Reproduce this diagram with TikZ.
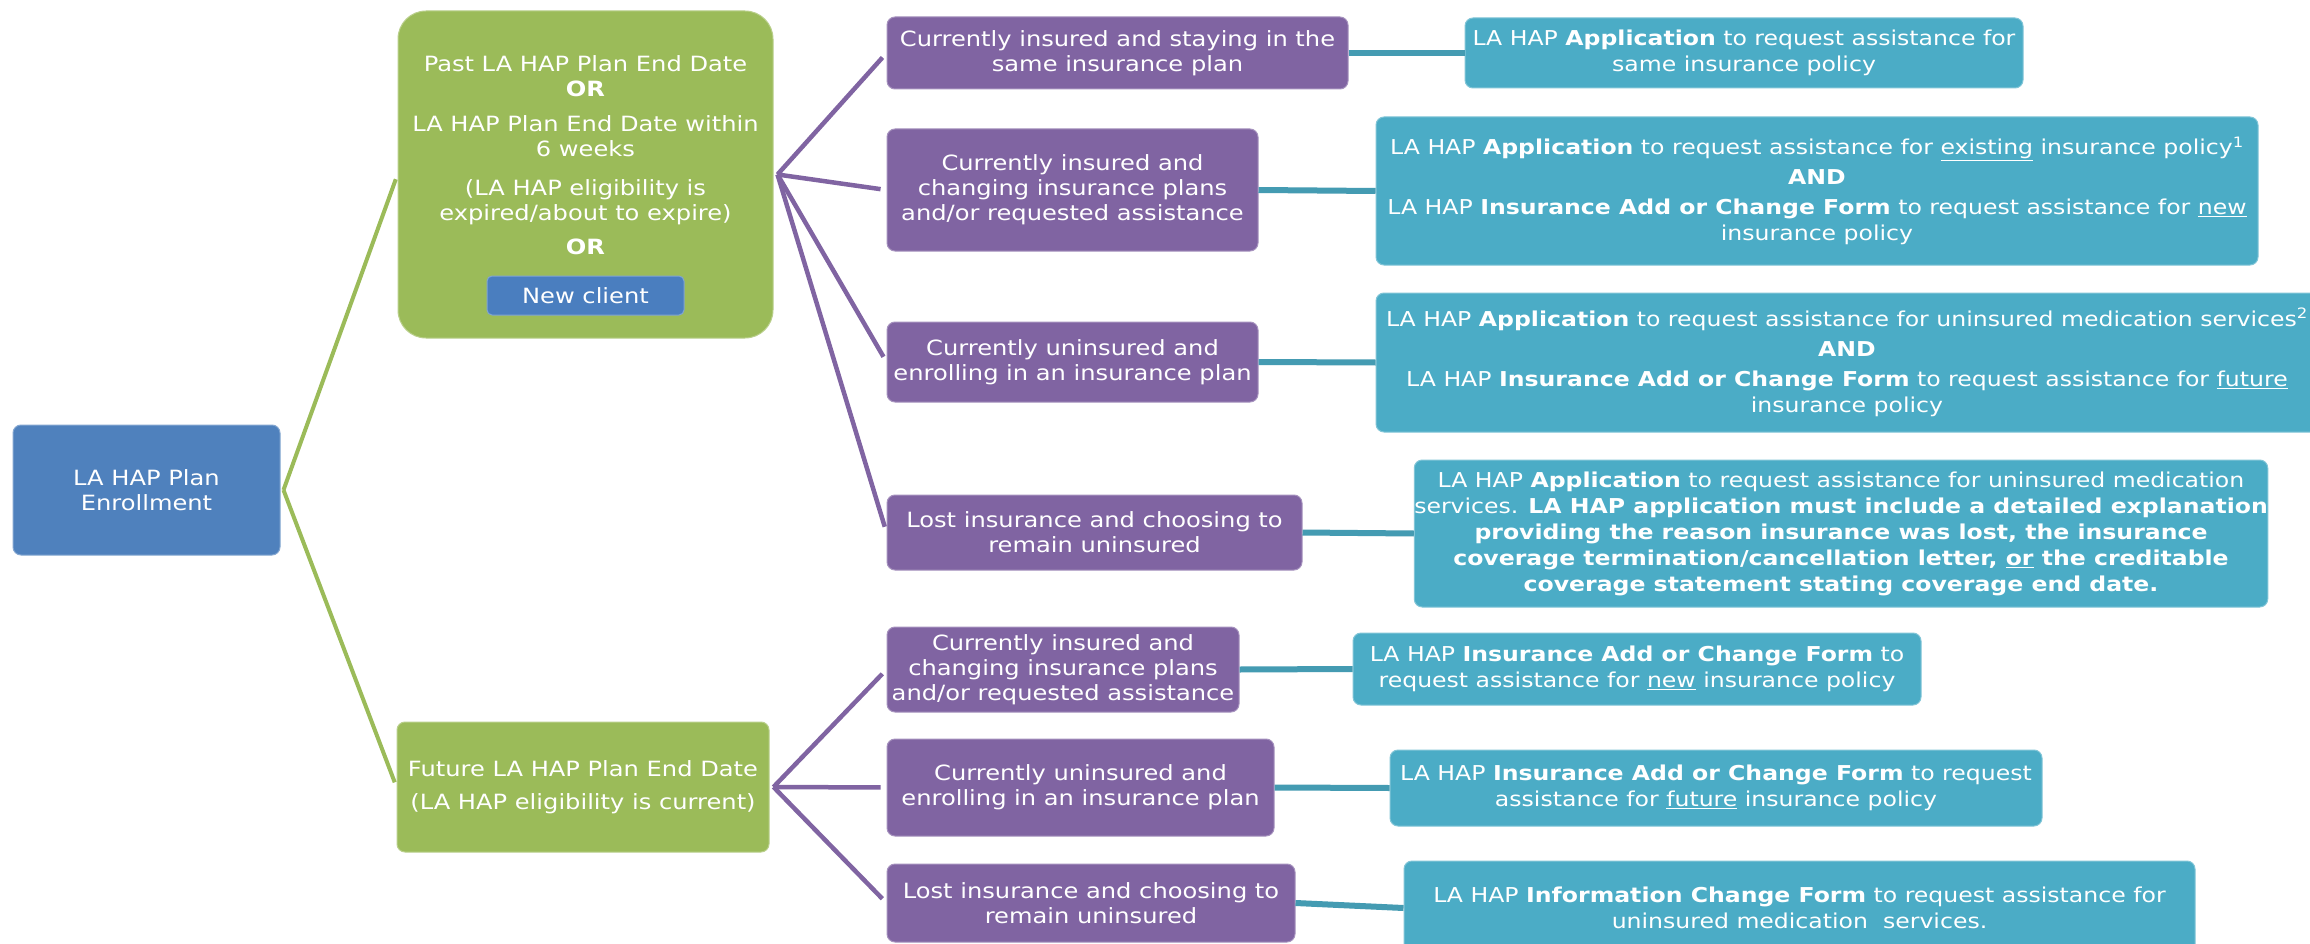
\documentclass[tikz,border=0pt]{standalone}
\usepackage{fontspec}
\setmainfont{DejaVu Sans}[FakeStretch=1.15]
\usetikzlibrary{calc}
\definecolor{rootblue}{HTML}{4F81BD}
\definecolor{lagreen}{HTML}{9BBB59}
\definecolor{lapurple}{HTML}{8064A2}
\definecolor{lateal}{HTML}{4BACC6}
\definecolor{clientblue}{HTML}{4A7EBF}
\begin{document}
\begin{tikzpicture}[x=1pt,y=-1pt,
  box/.style={rectangle, rounded corners=8pt, text=white, align=center, inner sep=0pt, line width=1pt, font=\fontsize{21}{25}\selectfont},
  rootbox/.style={box, fill=rootblue, draw=rootblue!70!white},
  greenbox/.style={box, fill=lagreen, draw=lagreen!70!white},
  purplebox/.style={box, fill=lapurple, draw=lapurple!70!white},
  tealbox/.style={box, fill=lateal, draw=lateal!70!white, font=\fontsize{20.5}{26}\selectfont},
  clientbox/.style={box, rounded corners=5pt, fill=clientblue, draw=clientblue!70!white},
  gline/.style={draw=lagreen, line width=4pt},
  pline/.style={draw=lapurple, line width=4.5pt},
  tline/.style={draw=lateal!90!black, line width=6pt},
]
\clip (0,0) rectangle (2310,944);
\fill[white] (0,0) rectangle (2310,944);

% root
\node[rootbox, minimum width=267pt, minimum height=130pt] (root) at (146.5,490) {LA HAP Plan\\Enrollment};

% green boxes
\node[greenbox, rounded corners=28pt, minimum width=375pt, minimum height=327pt] (g1) at (585.5,174.5) {};
\node[anchor=north, text=white, align=center, inner sep=0pt, font=\fontsize{21}{25}\selectfont] (g1text) at (585.5,55)
  {Past LA HAP Plan End Date\\\textbf{OR}\\[10pt]LA HAP Plan End Date within\\6 weeks\\[14pt](LA HAP eligibility is\\expired/about to expire)\\[9pt]\textbf{OR}};
\node[clientbox, minimum width=197pt, minimum height=39pt] (nc) at (585.5,295.5) {New client};
\node[greenbox, minimum width=372pt, minimum height=130pt] (g2) at (583,787) {Future LA HAP Plan End Date\\[8pt](LA HAP eligibility is current)};

% purple boxes
\node[purplebox, minimum width=461pt, minimum height=72pt] (p1) at (1117.5,53) {Currently insured and staying in the\\same insurance plan};
\node[purplebox, minimum width=371pt, minimum height=122pt] (p2) at (1072.5,190) {Currently insured and\\changing insurance plans\\and/or requested assistance};
\node[purplebox, minimum width=371pt, minimum height=80pt] (p3) at (1072.5,362) {Currently uninsured and\\enrolling in an insurance plan};
\node[purplebox, minimum width=415pt, minimum height=75pt] (p4) at (1094.5,532.5) {Lost insurance and choosing to\\remain uninsured};
\node[purplebox, minimum width=352pt, minimum height=85pt] (p5) at (1063,669.5) {Currently insured and\\changing insurance plans\\and/or requested assistance};
\node[purplebox, minimum width=387pt, minimum height=97pt] (p6) at (1080.5,787.5) {Currently uninsured and\\enrolling in an insurance plan};
\node[purplebox, minimum width=408pt, minimum height=78pt] (p7) at (1091,903) {Lost insurance and choosing to\\remain uninsured};

% teal boxes
\node[tealbox, minimum width=558pt, minimum height=70pt] (t1) at (1744,53) {LA HAP \textbf{Application} to request assistance for\\same insurance policy};
\node[tealbox, minimum width=882pt, minimum height=148pt] (t2) at (1817,191) {LA HAP \textbf{Application} to request assistance for \underline{existing} insurance policy\textsuperscript{1}\\[4pt]\textbf{AND}\\[4pt]LA HAP \textbf{Insurance Add or Change Form} to request assistance for \underline{new}\\insurance policy};
\node[tealbox, minimum width=942pt, minimum height=139pt] (t3) at (1847,362.5) {LA HAP \textbf{Application} to request assistance for uninsured medication services\textsuperscript{2}\\[4pt]\textbf{AND}\\[4pt]LA HAP \textbf{Insurance Add or Change Form} to request assistance for \underline{future}\\insurance policy};
\node[tealbox, minimum width=850pt, minimum height=147pt] (t4) at (1841,533.5) {LA HAP \textbf{Application} to request assistance for uninsured medication\\services. \textbf{LA HAP application must include a detailed explanation}\\\textbf{providing the reason insurance was lost, the insurance}\\\textbf{coverage termination/cancellation letter, \underline{or} the creditable}\\\textbf{coverage statement stating coverage end date.}};
\node[tealbox, minimum width=568pt, minimum height=72pt] (t5) at (1637,669) {LA HAP \textbf{Insurance Add or Change Form} to\\request assistance for \underline{new} insurance policy};
\node[tealbox, minimum width=652pt, minimum height=76pt] (t6) at (1716,788) {LA HAP \textbf{Insurance Add or Change Form} to request\\assistance for \underline{future} insurance policy};
\node[tealbox, minimum width=791pt, minimum height=94pt] (t7) at (1799.5,908) {LA HAP \textbf{Information Change Form} to request assistance for\\uninsured medication\ \ services.};

% connectors
\coordinate (vr) at ($(root.east)+(3,0)$);
\coordinate (v1) at ($(g1.east)+(4,0)$);
\coordinate (v2) at ($(g2.east)+(4,0)$);
\draw[gline, shorten >=5pt] (vr) -- (g1.west);
\draw[gline, shorten >=5pt] (vr) -- (g2.west);
\foreach \p in {p1,p2,p3,p4} \draw[pline, shorten >=6pt] (v1) -- (\p.west);
\foreach \p in {p5,p6,p7} \draw[pline, shorten >=6pt] (v2) -- (\p.west);
\draw[tline] (p1.east) -- (t1.west);
\draw[tline] (p2.east) -- (t2.west);
\draw[tline] (p3.east) -- (t3.west);
\draw[tline] (p4.east) -- (t4.west);
\draw[tline] (p5.east) -- (t5.west);
\draw[tline] (p6.east) -- (t6.west);
\draw[tline] (p7.east) -- (t7.west);
\end{tikzpicture}
\end{document}
